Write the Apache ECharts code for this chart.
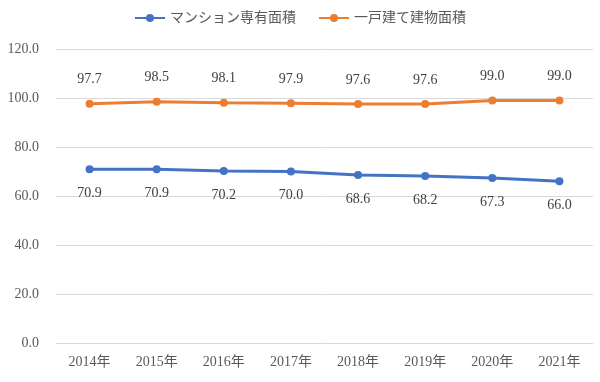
<!DOCTYPE html>
<html><head><meta charset="utf-8">
<script src="https://cdn.jsdelivr.net/npm/echarts@6/dist/echarts.min.js"></script>
<style>html,body{margin:0;padding:0;background:#fff}#c{width:600px;height:382px}</style>
</head><body><div id="c"></div>
<script>
var categories = ['2014年','2015年','2016年','2017年','2018年','2019年','2020年','2021年'];
var mansion = [70.9,70.9,70.2,70.0,68.6,68.2,67.3,66.0];
var house = [97.7,98.5,98.1,97.9,97.6,97.6,99.0,99.0];
var seriesNames = ['マンション専有面積','一戸建て建物面積'];
var font = '"Liberation Serif","Noto Sans CJK JP",serif';
var chart = echarts.init(document.getElementById('c'));
chart.setOption({
  animation:false,
  legend:{top:6,left:'center',itemWidth:30,itemHeight:10,itemGap:22,
    textStyle:{fontFamily:font,fontSize:14,color:'#595959'},data:seriesNames},
  grid:{left:56,right:7,top:49,bottom:39},
  xAxis:{type:'category',data:categories,boundaryGap:true,
    axisLine:{lineStyle:{color:'#d9d9d9'}},axisTick:{show:false},
    axisLabel:{fontFamily:font,fontSize:14,color:'#595959',margin:12}},
  yAxis:{type:'value',min:0,max:120,interval:20,
    axisLine:{show:false},axisTick:{show:false},
    splitLine:{lineStyle:{color:'#d9d9d9',width:1}},
    axisLabel:{fontFamily:font,fontSize:14,color:'#595959',margin:17,
      formatter:function(v){return v.toFixed(1);}}},
  series:[
    {name:seriesNames[0],type:'line',data:mansion,symbol:'circle',symbolSize:8,
     itemStyle:{color:'#4472C4'},lineStyle:{width:3,color:'#4472C4'},
     label:{show:true,position:'bottom',distance:13,fontFamily:font,fontSize:14,color:'#404040',
       formatter:function(p){return p.value.toFixed(1);}}},
    {name:seriesNames[1],type:'line',data:house,symbol:'circle',symbolSize:8,
     itemStyle:{color:'#ED7D31'},lineStyle:{width:3,color:'#ED7D31'},
     label:{show:true,position:'top',distance:13,fontFamily:font,fontSize:14,color:'#404040',
       formatter:function(p){return p.value.toFixed(1);}}}
  ]
});
</script></body></html>
